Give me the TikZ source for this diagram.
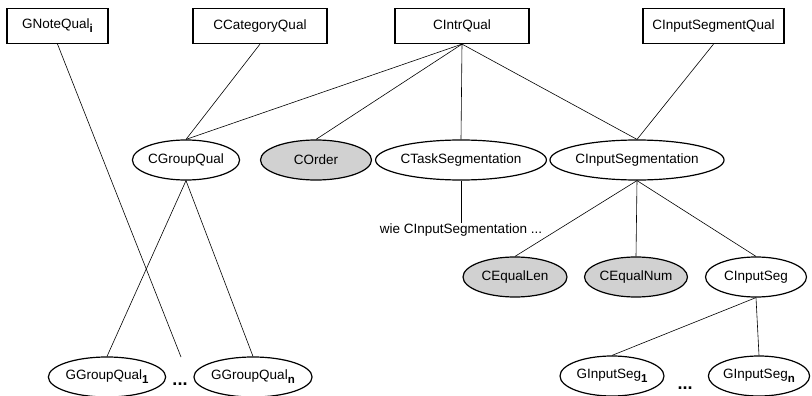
\documentclass[tikz,border=0pt]{standalone}
\usepackage{fontspec}
\setmainfont{Liberation Sans}
\usetikzlibrary{shapes.geometric}
\tikzset{
  qualbox/.style={draw, line width=1.2pt, rectangle, inner sep=0pt, minimum height=35pt},
  oval/.style={draw, line width=1.2pt, ellipse, inner sep=0pt, minimum height=40pt},
  shaded/.style={oval, fill=black!18},
  link/.style={line width=0.6pt},
  dots/.style={font=\fontsize{18}{18}\selectfont\bfseries, inner sep=0pt},
}
\newcommand{\idx}[1]{\raisebox{-0.55ex}{\fontsize{11.5}{11.5}\selectfont\bfseries #1}}
\begin{document}
\begin{tikzpicture}[x=1pt,y=-1pt,font=\fontsize{13.5}{15}\selectfont]
\useasboundingbox (0,0) rectangle (812,396);
% top row: qualifier classes
\node[qualbox, minimum width=101pt] (gnote) at (57.5,26) {GNoteQual\idx{i}};
\node[qualbox, minimum width=134pt] (ccat) at (260,26) {CCategoryQual};
\node[qualbox, minimum width=134pt] (cintr) at (462,26) {CIntrQual};
\node[qualbox, minimum width=141pt] (cinseg) at (713.5,26) {CInputSegmentQual};
% second row
\node[oval, minimum width=101pt] (cgroup) at (186,160) {CGroupQual};
\node[shaded, minimum width=111pt] (corder) at (316,160) {COrder};
\node[oval, minimum width=150pt] (ctask) at (461,160) {CTaskSegmentation};
\node[oval, minimum width=150pt] (cinsegm) at (637,160) {CInputSegmentation};
\node[inner sep=1pt, fill=white] (wie) at (461,230) {wie CInputSegmentation ...};
% third row
\node[shaded, minimum width=104pt] (ceqlen) at (515,277) {CEqualLen};
\node[shaded, minimum width=102pt] (ceqnum) at (636,277) {CEqualNum};
\node[oval, minimum width=101pt] (cinput) at (756,277) {CInputSeg};
% bottom row
\node[oval, minimum width=98pt] (gg1) at (107,377) {GGroupQual\idx{1}};
\node[dots] (ldots) at (180,384) {...};
\node[oval, minimum width=102pt] (ggn) at (253,377) {GGroupQual\idx{n}};
\node[oval, minimum width=104pt] (gi1) at (612,376) {GInputSeg\idx{1}};
\node[dots] (rdots) at (685,388) {...};
\node[oval, minimum width=96pt] (gin) at (759,376) {GInputSeg\idx{n}};
\coordinate (noteend) at (181,357);
% connectors
\draw[link] (cintr.south) -- (cgroup.north);
\draw[link] (cintr.south) -- (corder.north);
\draw[link] (cintr.south) -- (ctask.north);
\draw[link] (cintr.south) -- (cinsegm.north);
\draw[link] (ccat.south) -- (cgroup.north);
\draw[link] (cinseg.south) -- (cinsegm.north);
\draw[link] (gnote.south) -- (noteend);
\draw[link] (cgroup.south) -- (gg1.north);
\draw[link] (cgroup.south) -- (ggn.north);
\draw[link] (ctask.south) -- (wie.north);
\draw[link] (cinsegm.south) -- (ceqlen.north);
\draw[link] (cinsegm.south) -- (ceqnum.north);
\draw[link] (cinsegm.south) -- (cinput.north);
\draw[link] (cinput.south) -- (gi1.north);
\draw[link] (cinput.south) -- (gin.north);
\end{tikzpicture}
\end{document}
